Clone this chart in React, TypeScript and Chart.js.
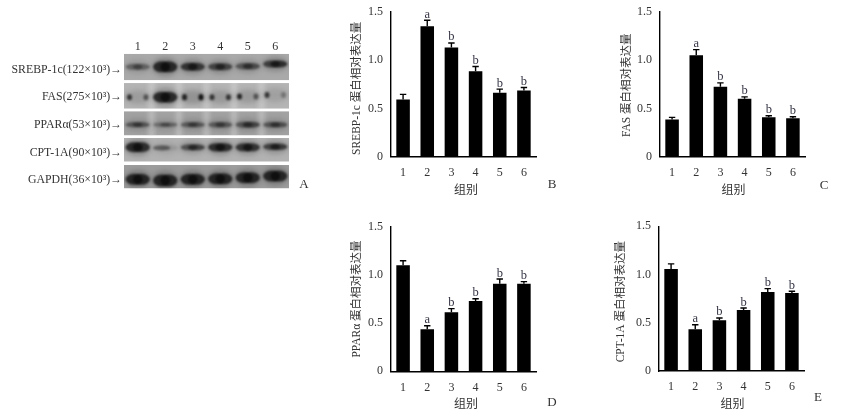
import React, { useEffect, useRef } from "react";
import { Chart, registerables } from "chart.js";

Chart.register(...registerables);

const groups = ["1", "2", "3", "4", "5", "6"];

const srebpValues = [0.593, 1.352, 1.131, 0.886, 0.662, 0.686];
const srebpTops = [0.645, 1.414, 1.179, 0.934, 0.7, 0.717];
const srebpLetters = ["", "a", "b", "b", "b", "b"];

const fasValues = [0.386, 1.052, 0.724, 0.6, 0.407, 0.397];
const fasTops = [0.407, 1.11, 0.765, 0.62, 0.424, 0.414];
const fasLetters = ["", "a", "b", "b", "b", "b"];

const pparValues = [1.1, 0.435, 0.612, 0.729, 0.909, 0.909];
const pparTops = [1.147, 0.473, 0.65, 0.753, 0.957, 0.93];
const pparLetters = ["", "a", "b", "b", "b", "b"];

const cptValues = [1.058, 0.432, 0.525, 0.632, 0.819, 0.809];
const cptTops = [1.11, 0.48, 0.55, 0.653, 0.854, 0.826];
const cptLetters = ["", "a", "b", "b", "b", "b"];

const blotRows = [
  "SREBP-1c(122×10³)→",
  "FAS(275×10³)→",
  "PPARα(53×10³)→",
  "CPT-1A(90×10³)→",
  "GAPDH(36×10³)→",
];
const blotLanes = ["1", "2", "3", "4", "5", "6"];
// band darkness in the left and right half of each lane, rows top to bottom
const bandLeft = [
  [0.5, 1.0, 0.9, 0.75, 0.6, 0.8],
  [0.7, 1.0, 0.8, 0.7, 0.8, 0.7],
  [0.6, 0.4, 0.55, 0.55, 0.6, 0.6],
  [1.0, 0.6, 0.65, 0.95, 0.9, 0.8],
  [1.0, 1.0, 1.0, 1.0, 1.0, 1.0],
];
const bandRight = [
  [0.5, 1.0, 0.85, 0.75, 0.7, 0.95],
  [0.5, 1.0, 0.9, 0.7, 0.5, 0.3],
  [0.6, 0.5, 0.6, 0.6, 0.75, 0.65],
  [0.95, 0.12, 0.8, 0.95, 0.9, 0.85],
  [1.0, 1.0, 1.0, 1.0, 1.0, 1.0],
];
const bandThickness = [
  [3, 5.5, 4, 3.5, 3.2, 3.5],
  [3, 5.5, 3.2, 3, 3, 3],
  [2.6, 2.3, 2.6, 2.8, 3, 2.8],
  [5, 2.6, 3, 4.2, 4, 3.2],
  [5.5, 6, 5.5, 5.5, 5.5, 5.5],
];
const bandShift = [
  [0, 0, 0, 0, -0.02, -0.1],
  [0.1, 0.1, 0.1, 0.1, 0.08, 0.02],
  [0.1, 0.1, 0.1, 0.1, 0.1, 0.1],
  [-0.08, -0.06, -0.08, -0.08, -0.08, -0.1],
  [0.08, 0.12, 0.08, 0.06, 0.02, -0.04],
];
const stripShade = ["#a9a9a9", "#b4b4b4", "#a2a2a2", "#b2b2b2", "#9c9c9c"];
const stripEdges = [
  [-0.47, 0.49],
  [-0.41, 0.52],
  [-0.39, 0.49],
  [-0.42, 0.44],
  [-0.44, 0.41],
];

const SERIF = '"Liberation Serif", "Noto Sans CJK SC", serif';

const errorBarPlugin = {
  id: "errorBars",
  afterDatasetsDraw(chart: any, _a: any, opts: any) {
    const { ctx, scales } = chart;
    const meta = chart.getDatasetMeta(0);
    ctx.save();
    ctx.strokeStyle = "#000";
    ctx.lineWidth = 1.4;
    ctx.font = `12.5px ${SERIF}`;
    ctx.textAlign = "center";
    ctx.textBaseline = "alphabetic";
    meta.data.forEach((bar: any, i: number) => {
      const yTop = scales.y.getPixelForValue(opts.tops[i]);
      const yBase = scales.y.getPixelForValue(opts.values[i]);
      ctx.beginPath();
      ctx.moveTo(bar.x, yBase);
      ctx.lineTo(bar.x, yTop);
      ctx.moveTo(bar.x - 3.2, yTop);
      ctx.lineTo(bar.x + 3.2, yTop);
      ctx.stroke();
      if (opts.letters[i]) {
        ctx.fillStyle = "#333344";
        ctx.fillText(opts.letters[i], bar.x, yTop - 2.5);
      }
    });
    ctx.restore();
  },
};

const blotPlugin = {
  id: "blot",
  beforeDatasetsDraw(chart: any) {
    const { ctx, scales, chartArea } = chart;
    const { x, y } = scales;
    const rowH = Math.abs(y.getPixelForValue(1) - y.getPixelForValue(0));
    const laneW = Math.abs(x.getPixelForValue(1) - x.getPixelForValue(0));
    blotRows.forEach((_r, row) => {
      const c = y.getPixelForValue(row);
      const top = c + stripEdges[row][0] * rowH;
      const bot = c + stripEdges[row][1] * rowH;
      ctx.save();
      ctx.beginPath();
      ctx.rect(chartArea.left, top, chartArea.width, bot - top);
      ctx.clip();
      ctx.fillStyle = stripShade[row];
      ctx.fillRect(chartArea.left, top, chartArea.width, bot - top);
      ctx.filter = "blur(2.5px)";
      // lighter gutters between lanes
      if (row === 2 || row === 1) {
        ctx.fillStyle = "rgba(225,225,225,0.55)";
        for (let l = 1; l < 6; l++) {
          const gx = x.getPixelForValue(l) - laneW / 2;
          ctx.fillRect(gx - 2, top - 4, 4, bot - top + 8);
        }
      }
      // soft lane smear
      blotLanes.forEach((_l, lane) => {
        const cx = x.getPixelForValue(lane);
        const by = c + bandShift[row][lane] * rowH;
        const strength = (bandLeft[row][lane] + bandRight[row][lane]) / 2;
        ctx.fillStyle = `rgba(40,40,40,${0.28 * strength})`;
        ctx.beginPath();
        ctx.ellipse(cx, by, laneW * 0.48, bandThickness[row][lane] + 4, 0, 0, Math.PI * 2);
        ctx.fill();
      });
      // the bands
      ctx.filter = "blur(1.2px)";
      blotLanes.forEach((_l, lane) => {
        const cx = x.getPixelForValue(lane);
        const by = c + bandShift[row][lane] * rowH;
        const h = bandThickness[row][lane];
        const spot = row === 1 && lane !== 1;
        const halves: [number, number][] = [
          [-0.13, bandLeft[row][lane]],
          [0.13, bandRight[row][lane]],
        ];
        halves.forEach(([off, dark]) => {
          ctx.fillStyle = `rgba(8,8,8,${spot ? dark : dark * 0.75})`;
          ctx.beginPath();
          ctx.ellipse(
            cx + off * laneW * (spot ? 2.3 : 1),
            by,
            laneW * (spot ? 0.09 : 0.31),
            h,
            0,
            0,
            Math.PI * 2,
          );
          ctx.fill();
        });
      });
      ctx.restore();
    });
  },
};

const panels = [
  { name: "SREBP-1c 蛋白相对表达量", values: srebpValues, tops: srebpTops, letters: srebpLetters, left: 340, top: 0, plotLeft: 51, plotTop: 12, plotBottom: 156.6, titlePad: 10, yShift: 4, xShift: 2.5 },
  { name: "FAS 蛋白相对表达量", values: fasValues, tops: fasTops, letters: fasLetters, left: 600, top: 0, plotLeft: 60, plotTop: 12, plotBottom: 156.6, titlePad: 20, yShift: 1, xShift: 1 },
  { name: "PPARα 蛋白相对表达量", values: pparValues, tops: pparTops, letters: pparLetters, left: 340, top: 214, plotLeft: 51, plotTop: 12.7, plotBottom: 157.3, titlePad: 10, yShift: 0, xShift: 2.5 },
  { name: "CPT-1A 蛋白相对表达量", values: cptValues, tops: cptTops, letters: cptLetters, left: 600, top: 214, plotLeft: 59, plotTop: 12.3, plotBottom: 157, titlePad: 14, yShift: 3, xShift: 1 },
];

const panelLetters = [
  { t: "A", x: 304, y: 184 },
  { t: "B", x: 552, y: 184 },
  { t: "C", x: 824, y: 185 },
  { t: "D", x: 552, y: 402 },
  { t: "E", x: 818, y: 397 },
];

function nudgeTitle(scale: any, dx: number, dy: number) {
  if (scale.__nudged) return;
  scale.__nudged = true;
  const draw = scale.drawTitle;
  scale.drawTitle = function () {
    const ctx = this.ctx;
    ctx.save();
    ctx.translate(dx, dy);
    draw.call(this);
    ctx.restore();
  };
}

function BarPanel({ p }: { p: (typeof panels)[number] }) {
  const ref = useRef<HTMLCanvasElement>(null);
  useEffect(() => {
    const W = 240;
    const H = 200;
    const chart = new Chart(ref.current!, {
      type: "bar",
      data: {
        labels: groups,
        datasets: [
          {
            data: p.values,
            backgroundColor: "#000",
            barPercentage: 0.56,
            categoryPercentage: 1,
          },
        ],
      },
      plugins: [errorBarPlugin],
      options: {
        responsive: false,
        animation: false,
        devicePixelRatio: 1,
        layout: { padding: { top: p.plotTop, right: W - p.plotLeft - 145, left: 0, bottom: 0 } },
        plugins: {
          legend: { display: false },
          tooltip: { enabled: false },
          errorBars: { values: p.values, tops: p.tops, letters: p.letters },
        } as any,
        scales: {
          x: {
            grid: { display: false, drawTicks: true, tickLength: 4, tickWidth: 1.3, tickColor: "#000" } as any,
            border: { display: true, color: "#000", width: 1.4 },
            ticks: { color: "#333", font: { family: SERIF, size: 12 }, padding: 5, maxRotation: 0 },
            title: {
              display: true,
              text: "组别",
              color: "#333",
              font: { family: SERIF, size: 12 },
              padding: { top: 2, bottom: 2 },
            },
            afterFit(s: any) {
              s.height = H - p.plotBottom;
              nudgeTitle(s, p.xShift, 0);
            },
          },
          y: {
            min: 0,
            max: 1.5,
            grid: { display: false, drawTicks: true, tickLength: 5, tickWidth: 1.3, tickColor: "#000" } as any,
            border: { display: true, color: "#000", width: 1.4 },
            ticks: {
              stepSize: 0.5,
              color: "#333",
              font: { family: SERIF, size: 12 },
              padding: 3,
              callback: (v: any) => (Number(v) === 0 ? "0" : Number(v).toFixed(1)),
            },
            title: {
              display: true,
              text: p.name,
              color: "#333",
              font: { family: SERIF, size: 11.5 },
              padding: { top: p.titlePad, bottom: 0 },
            },
            afterFit(s: any) {
              s.width = p.plotLeft;
              nudgeTitle(s, 0, p.yShift);
            },
          },
        },
      } as any,
    });
    return () => chart.destroy();
  }, [p]);
  return (
    <canvas
      ref={ref}
      width={240}
      height={200}
      style={{ position: "absolute", left: p.left, top: p.top, width: 240, height: 200 }}
    />
  );
}

function BlotPanel() {
  const ref = useRef<HTMLCanvasElement>(null);
  useEffect(() => {
    const chart = new Chart(ref.current!, {
      type: "scatter",
      data: {
        labels: blotLanes,
        datasets: [{ data: [], pointRadius: 0 }],
      },
      plugins: [blotPlugin],
      options: {
        responsive: false,
        animation: false,
        devicePixelRatio: 1,
        layout: { padding: { top: 0, left: 0, right: 41, bottom: 9 } },
        plugins: { legend: { display: false }, tooltip: { enabled: false } },
        scales: {
          x: {
            type: "category",
            labels: blotLanes,
            offset: true,
            position: "top",
            grid: { display: false, drawTicks: false, offset: true },
            border: { display: false },
            ticks: { color: "#333", font: { family: SERIF, size: 12 }, padding: -1, maxRotation: 0 },
            afterFit(s: any) {
              s.height = 53;
            },
          },
          y: {
            type: "category",
            labels: blotRows,
            offset: true,
            grid: { display: false, drawTicks: false, offset: true },
            border: { display: false },
            ticks: {
              color: "#333",
              font: { family: SERIF, size: 11.8 },
              padding: 2,
              labelOffset: 3,
              autoSkip: false,
            },
            afterFit(s: any) {
              s.width = 124;
            },
          },
        },
      } as any,
    });
    return () => chart.destroy();
  }, []);
  return (
    <canvas
      ref={ref}
      width={330}
      height={200}
      style={{ position: "absolute", left: 0, top: 0, width: 330, height: 200 }}
    />
  );
}

export default function App() {
  return (
    <div
      style={{
        position: "absolute",
        left: 0,
        top: 0,
        width: 841,
        height: 414,
        background: "#fff",
        overflow: "hidden",
      }}
    >
      <BlotPanel />
      {panels.map((p) => (
        <BarPanel key={p.name} p={p} />
      ))}
      {panelLetters.map((l) => (
        <span
          key={l.t}
          style={{
            position: "absolute",
            left: l.x - 10,
            top: l.y - 10,
            width: 20,
            height: 20,
            lineHeight: "20px",
            textAlign: "center",
            fontFamily: SERIF,
            fontSize: 13,
            color: "#333",
          }}
        >
          {l.t}
        </span>
      ))}
    </div>
  );
}
